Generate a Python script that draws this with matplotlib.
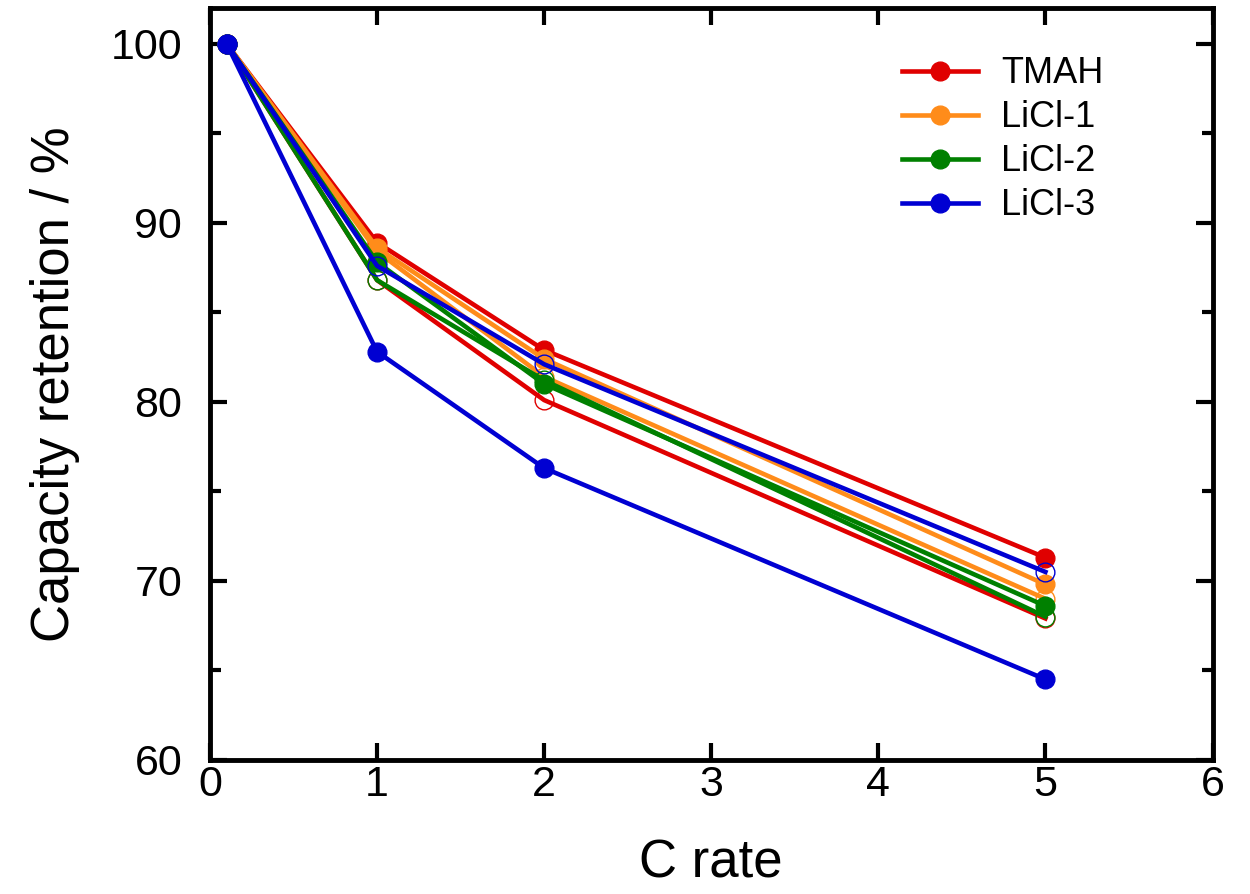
import matplotlib
matplotlib.use("Agg")
import matplotlib.pyplot as plt
from matplotlib.ticker import MultipleLocator

plt.rcParams["font.family"] = ["Liberation Sans", "DejaVu Sans"]

c_rate = [0.1, 1, 2, 5]

# filled markers (shown in legend)
tmah = [100, 88.9, 82.9, 71.3]
licl1 = [100, 88.6, 82.4, 69.8]
licl2 = [100, 87.8, 81.0, 68.6]
licl3 = [100, 82.8, 76.3, 64.5]

# open markers (second cell of each sample)
tmah_b = [100, 86.8, 80.1, 67.9]
licl1_b = [100, 88.4, 81.4, 69.0]
licl2_b = [100, 86.8, 81.2, 68.0]
licl3_b = [100, 87.6, 82.1, 70.5]

labels = ["TMAH", "LiCl-1", "LiCl-2", "LiCl-3"]
colors = ["#e00000", "#ff8c1a", "#008000", "#0000d2"]

filled = [tmah, licl1, licl2, licl3]
opened = [tmah_b, licl1_b, licl2_b, licl3_b]

fig = plt.figure(figsize=(12.5, 8.94), dpi=100)
ax = fig.add_axes([0.168, 0.150, 0.802, 0.841])

for lab, col, yf, yo in zip(labels, colors, filled, opened):
    ax.plot(c_rate, yf, "-o", color=col, lw=3.3, ms=13.5, label=lab)
    ax.plot(c_rate, yo, "-o", color=col, lw=3.3, ms=13.5,
            markerfacecolor="none", markeredgewidth=1)

ax.set_xlim(0, 6)
ax.set_ylim(60, 102)
ax.xaxis.set_major_locator(MultipleLocator(1))
ax.yaxis.set_major_locator(MultipleLocator(10))
ax.yaxis.set_minor_locator(MultipleLocator(5))
ax.tick_params(which="both", direction="in", top=True, right=True,
               width=3, labelsize=31)
ax.tick_params(axis="x", pad=4)
ax.tick_params(axis="y", pad=20)
ax.tick_params(which="major", length=12)
ax.tick_params(which="minor", length=8)
for s in ax.spines.values():
    s.set_linewidth(3.5)

ax.set_xlabel("C rate", fontsize=38, labelpad=24)
ax.set_ylabel("Capacity retention / %", fontsize=38, labelpad=22)

ax.legend(loc="upper left", bbox_to_anchor=(0.69, 0.936), frameon=False,
          borderaxespad=0, borderpad=0,
          fontsize=26, handlelength=2.1, handletextpad=0.65,
          labelspacing=0.25)

fig.savefig("out.png", dpi=100)
